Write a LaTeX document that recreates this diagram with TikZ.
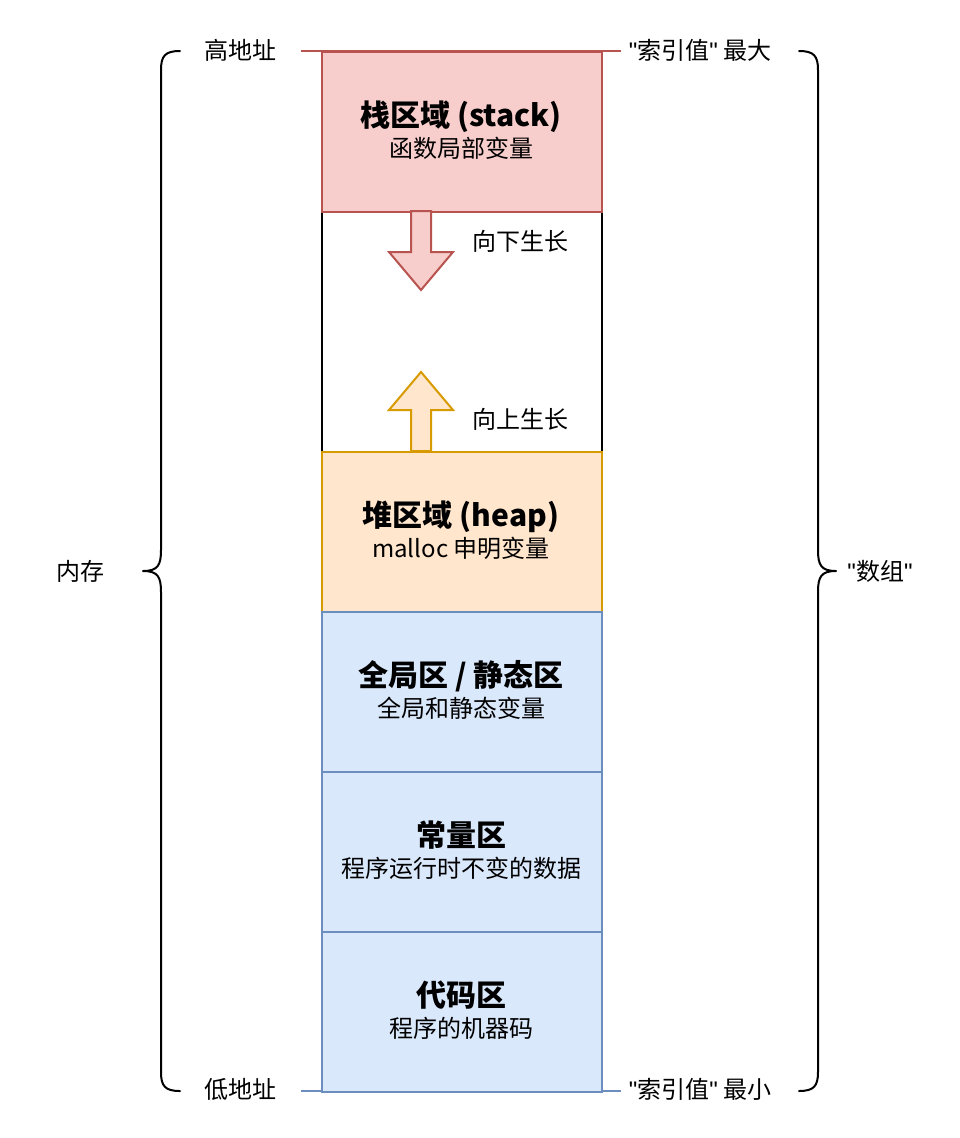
\documentclass[tikz,border=0pt]{standalone}
\usepackage{fontspec}
\setmainfont{Noto Sans CJK SC}
\newfontfamily\qfont{Liberation Sans}
\newcommand{\dq}{{\qfont"}}
\begin{document}
\begin{tikzpicture}[x=1pt,y=-1pt,
  lw/.style={line width=2pt},
  region/.style={lw, draw, minimum width=280pt, minimum height=160pt, inner sep=0pt, anchor=north west},
  stackbox/.style={region, draw=stackE, fill=stackF},
  heapbox/.style={region, draw=heapE, fill=heapF},
  staticbox/.style={region, draw=blueE, fill=blueF},
  ttl/.style={font=\fontsize{30}{34}\selectfont\bfseries, anchor=base, inner sep=0pt},
  sub/.style={font=\fontsize{24}{28}\selectfont, anchor=base, inner sep=0pt},
  lbl/.style={font=\fontsize{24}{28}\selectfont, anchor=base, inner sep=0pt},
  brace/.style={lw, line cap=round, line join=round}
]
\definecolor{stackF}{HTML}{F8CECC}\definecolor{stackE}{HTML}{B85450}
\definecolor{heapF}{HTML}{FFE6CC}\definecolor{heapE}{HTML}{D79B00}
\definecolor{blueF}{HTML}{DAE8FC}\definecolor{blueE}{HTML}{6C8EBF}
\useasboundingbox (0,0) rectangle (960,1138);

% address lines
\coordinate (tl) at (301,51); \coordinate (tr) at (621,51);
\coordinate (bl) at (301,1091); \coordinate (br) at (621,1091);
\draw[lw, stackE] (tl) -- (tr);
\draw[lw, blueE] (bl) -- (br);

% free middle region
\node[region, draw=black, fill=white, minimum height=240pt] (mid) at (321,211) {};

% regions
\node[stackbox] (stack) at (321,51) {};
\node[heapbox] (heap) at (321,451) {};
\node[staticbox] (glob) at (321,611) {};
\node[staticbox] (const) at (321,771) {};
\node[staticbox] (code) at (321,931) {};

\node[ttl] (stackT) at (461,126) {栈区域 (stack)};
\node[sub] (stackS) at (461,157) {函数局部变量};
\node[ttl] (heapT) at (461,526) {堆区域 (heap)};
\node[sub] (heapS) at (461,557) {malloc 申明变量};
\node[ttl] (globT) at (461,686) {全局区 / 静态区};
\node[sub] (globS) at (461,717) {全局和静态变量};
\node[ttl] (constT) at (461,846) {常量区};
\node[sub] (constS) at (461,877) {程序运行时不变的数据};
\node[ttl] (codeT) at (461,1006) {代码区};
\node[sub] (codeS) at (461,1037) {程序的机器码};

% growth arrows
\draw[lw, draw=stackE, fill=stackF, line join=miter]
  (411,211) -- (431,211) -- (431,252) -- (453,252) -- (421,290) -- (389,252) -- (411,252) -- cycle;
\draw[lw, draw=heapE, fill=heapF, line join=miter]
  (411,451) -- (431,451) -- (431,410) -- (453,410) -- (421,372) -- (389,410) -- (411,410) -- cycle;
\node[lbl] (down) at (520,250) {向下生长};
\node[lbl] (up) at (520,428) {向上生长};

% address labels
\node[lbl] (hi) at (240,59) {高地址};
\node[lbl] (lo) at (240,1098) {低地址};
\node[lbl] (imax) at (700,59) {\dq 索引值\dq{} 最大};
\node[lbl] (imin) at (700,1098) {\dq 索引值\dq{} 最小};

% braces
\draw[brace] (180,51) .. controls (165,51) and (161,56) .. (161,70) -- (161,550)
  .. controls (161,565) and (158,571) .. (143,571)
  .. controls (158,571) and (161,577) .. (161,592) -- (161,1072)
  .. controls (161,1086) and (165,1091) .. (180,1091);
\draw[brace] (799,51) .. controls (814,51) and (818,56) .. (818,70) -- (818,550)
  .. controls (818,565) and (821,571) .. (836,571)
  .. controls (821,571) and (818,577) .. (818,592) -- (818,1072)
  .. controls (818,1086) and (814,1091) .. (799,1091);
\node[lbl] (mem) at (80,580) {内存};
\node[lbl] (arr) at (880,580) {\dq 数组\dq};
\end{tikzpicture}
\end{document}
